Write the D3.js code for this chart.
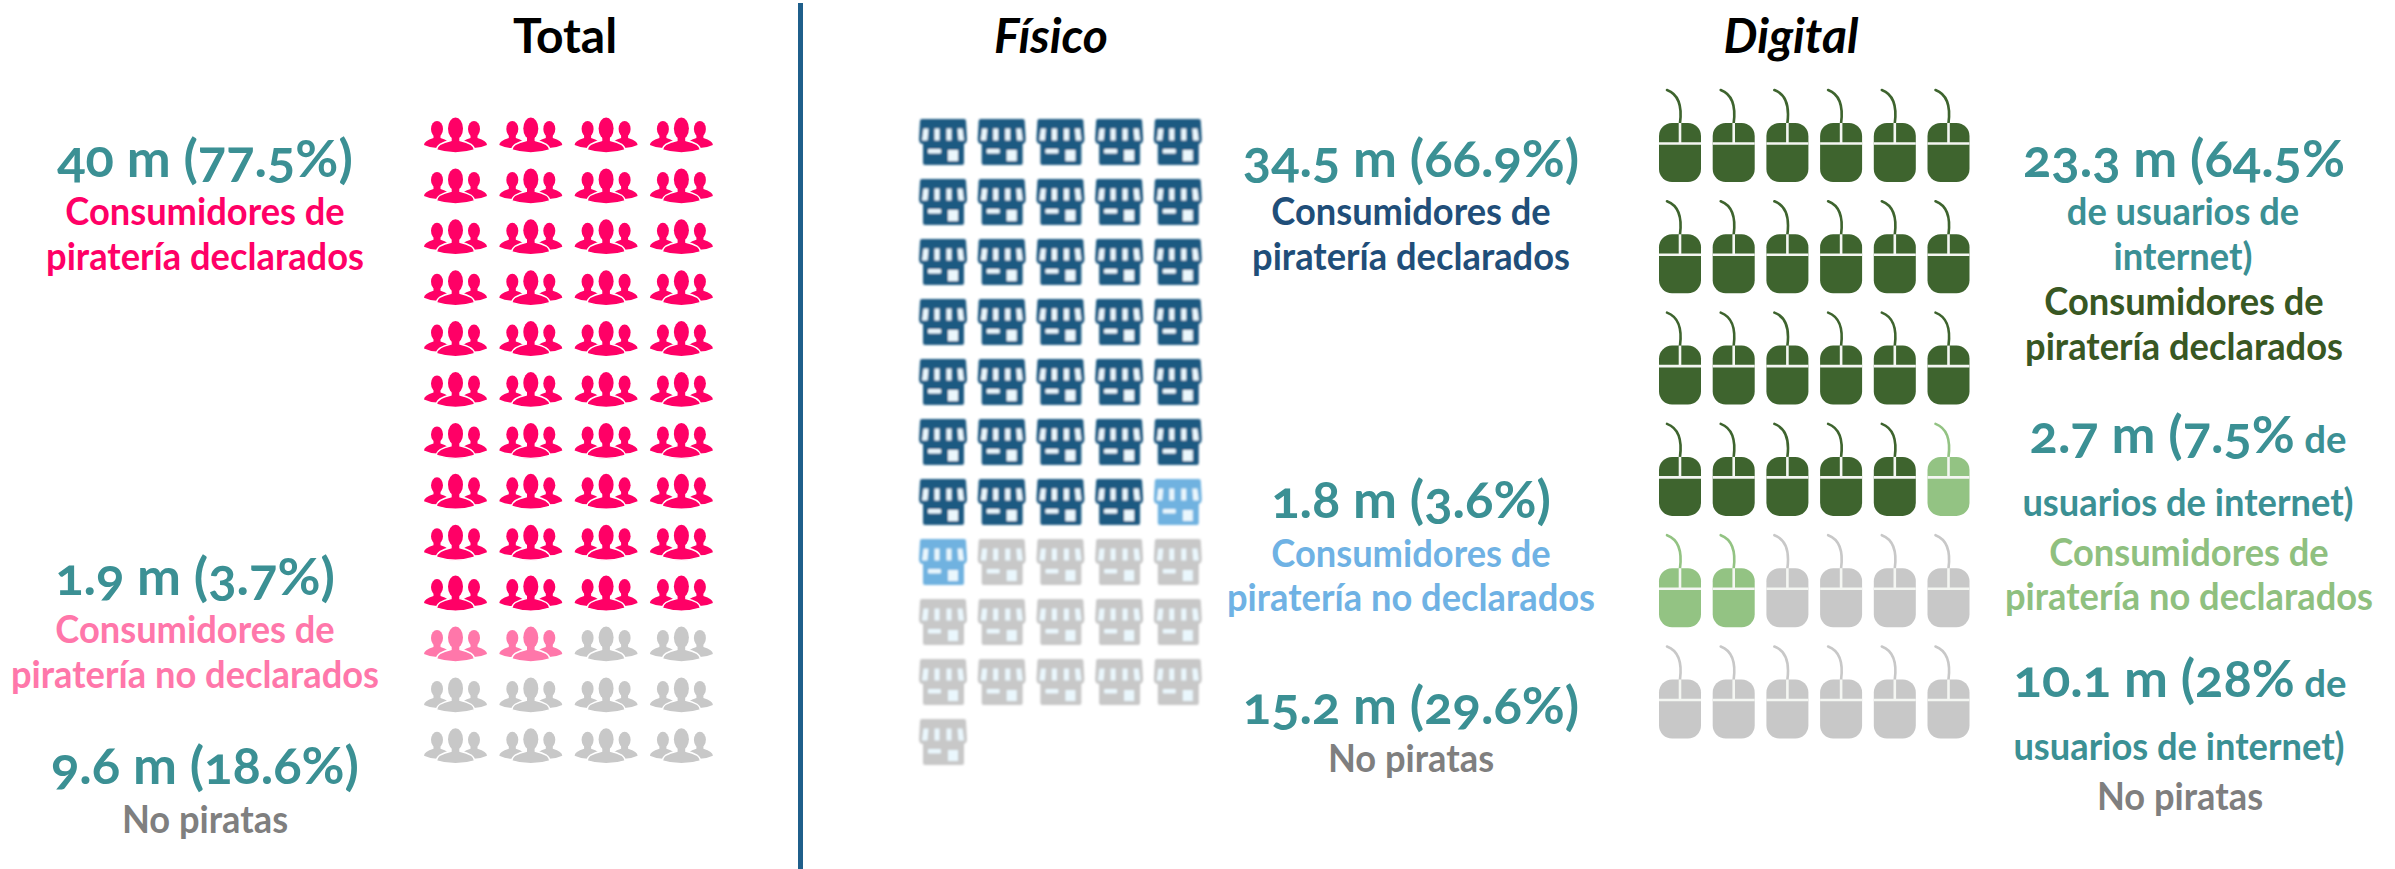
<!DOCTYPE html>
<html lang="es">
<head>
    <meta charset="UTF-8">
    <script src="https://d3js.org/d3.v7.min.js"></script>
    <title>Piratería</title>
    <style>
        body { margin: 0; background: #fff; }
        text { font-family: Lato, "Open Sans", sans-serif; font-weight: 700; text-anchor: middle; }
    </style>
</head>
<body>
    <svg width="2395" height="869" id="chart"></svg>
    <script>
        // icon counts per group: declared, undeclared, non pirates
        const groups = ["declarados", "noDeclarados", "noPiratas"];
        const totalCounts = [40, 2, 10];
        const fisicoCounts = [34, 2, 15];
        const digitalCounts = [23, 3, 10];

        const titles = ["Total", "Físico", "Digital"];
        const totalFigures = ["40 m (77.5%)", "1.9 m (3.7%)", "9.6 m (18.6%)"];
        const fisicoFigures = ["34.5 m (66.9%)", "1.8 m (3.6%)", "15.2 m (29.6%)"];
        const digitalFigures = ["23.3 m (64.5%", "2.7 m (7.5%", "10.1 m (28%"];
        const line1 = "Consumidores de";
        const line2 = "piratería declarados";
        const line2b = "piratería no declarados";
        const noPiratas = "No piratas";
        const deUsuarios = "de usuarios de";
        const internetClose = "internet)";
        const usuariosInternet = "usuarios de internet)";

        const svg = d3.select("#chart");

        const teal = "#3b9094";
        const grey = "#c8c8c8";
        const greyText = "#7f7f7f";

        // expand the counts into one record per icon
        function cells(counts) {
            return groups.flatMap((g, k) => d3.range(counts[k]).map(() => g));
        }

        function drawGrid(counts, cols, rows, x0, stepX, y0, stepY, colors, drawIcon) {
            const x = d3.scalePoint().domain(d3.range(cols)).range([x0, x0 + stepX * (cols - 1)]);
            const y = d3.scalePoint().domain(d3.range(rows)).range([y0, y0 + stepY * (rows - 1)]);
            const color = d3.scaleOrdinal().domain(groups).range(colors);

            return svg.append("g").call(g => g.selectAll("g")
                .data(cells(counts))
                .join("g")
                .attr("transform", (d, i) => `translate(${x(i % cols)},${y(Math.floor(i / cols))})`)
                .each(function (d) { drawIcon(d3.select(this), color(d)); }));
        }

        function person(g, c) {
            const bust = (cx, hy, rx, ry, shoulder, neck, bottom, outline) => {
                g.append("path")
                    .attr("d", `M${cx - neck} ${hy + ry - 4} L${cx - neck} ${hy + ry + 1}
                        Q${cx - shoulder} ${hy + ry + 4} ${cx - shoulder} ${bottom - 3}
                        Q${cx} ${bottom + 3} ${cx + shoulder} ${bottom - 3}
                        Q${cx + shoulder} ${hy + ry + 4} ${cx + neck} ${hy + ry + 1}
                        L${cx + neck} ${hy + ry - 4} Z`)
                    .attr("fill", c)
                    // white edge separates the front figure from the two behind it
                    .attr("stroke", outline ? "#fff" : "none")
                    .attr("stroke-width", 1.4);
                g.append("ellipse").attr("cx", cx).attr("cy", hy).attr("rx", rx).attr("ry", ry).attr("fill", c);
            };
            bust(13, 11, 6, 8, 13, 3.5, 30);
            bust(50, 11, 6, 8, 13, 3.5, 30);
            bust(31.5, 10.5, 7.5, 11, 19, 4.5, 35, true);
        }

        function store(g, c) {
            const pale = "#eaf7fd";
            g.append("rect").attr("x", 4).attr("y", 16).attr("width", 41).attr("height", 30).attr("rx", 2).attr("fill", c);
            g.append("path")
                .attr("d", "M3 0 H45 Q47 0 47 2 L48 20 Q48 25 44 25 H4 Q0 25 0 20 L1 2 Q1 0 3 0 Z")
                .attr("fill", c);
            // awning slots
            const slots = ["M4.5 9.5 H9.5 L8.5 21.5 H3 Z", "M15.5 9.5 H20.5 L20.5 21.5 H15.5 Z", "M27.5 9.5 H32.5 L32.5 21.5 H27.5 Z", "M38.5 9.5 H43.5 L45 21.5 H39.5 Z"];
            g.selectAll("path.slot").data(slots).join("path")
                .attr("class", "slot").attr("d", d => d).attr("fill", pale);
            g.append("rect").attr("x", 9).attr("y", 30).attr("width", 13).attr("height", 4.5).attr("rx", 1).attr("fill", pale);
            g.append("rect").attr("x", 29).attr("y", 31).attr("width", 10).attr("height", 11).attr("fill", pale);
        }

        function mouse(g, c) {
            g.append("path")
                .attr("d", "M8 0 C16 3 24 10 21 33")
                .attr("fill", "none").attr("stroke", c).attr("stroke-width", 2.6).attr("stroke-linecap", "round");
            g.append("rect").attr("y", 33).attr("width", 42).attr("height", 59).attr("rx", 13).attr("fill", c);
            g.append("line").attr("x1", 21).attr("x2", 21).attr("y1", 33).attr("y2", 53).attr("stroke", "#f4f6f2").attr("stroke-width", 2.6);
            g.append("line").attr("x1", 0).attr("x2", 42).attr("y1", 53.5).attr("y2", 53.5).attr("stroke", "#f4f6f2").attr("stroke-width", 2.6);
        }

        // the shop icons are soft in the source image
        svg.append("defs").append("filter").attr("id", "soft")
            .append("feGaussianBlur").attr("stdDeviation", 0.9);

        drawGrid(totalCounts, 4, 13, 424, 75.3, 118, 50.9, ["#ff0066", "#ff77aa", grey], person);
        drawGrid(fisicoCounts, 5, 11, 919, 58.7, 119, 60, ["#1f5a82", "#6fb2e0", grey], store)
            .attr("filter", "url(#soft)");
        drawGrid(digitalCounts, 6, 6, 1659, 53.7, 90, 111.3, ["#3e642e", "#93c383", grey], mouse);

        // divider
        svg.append("line").attr("x1", 800.5).attr("x2", 800.5).attr("y1", 3).attr("y2", 869)
            .attr("stroke", "#1f5f8b").attr("stroke-width", 5);

        // text is squeezed a little: the source face is narrower than Lato
        const textShift = 2;
        function label(txt, cx, y, size, color, squeeze, italic) {
            return svg.append("text")
                .attr("transform", `translate(${cx},${y + textShift}) scale(${squeeze},1)`)
                .attr("font-size", size).attr("fill", color)
                .attr("font-style", italic ? "italic" : null)
                .text(txt);
        }
        function figure(txt, cx, y, de) {
            const t = label(txt, cx, y, 52, teal, 1.01);
            t.style("font-feature-settings", '"onum"');
            if (de) t.append("tspan").attr("font-size", 38).text(" de");
            return t;
        }
        function body(txt, cx, y, color) {
            return label(txt, cx, y, 38, color, 0.955).attr("font-weight", 600);
        }

        label(titles[0], 565, 51, 48, "#000", 1);
        label(titles[1], 1051, 51, 48, "#000", 1, true);
        label(titles[2], 1791, 51, 48, "#000", 1, true);

        figure(totalFigures[0], 205, 175);
        body(line1, 205, 223, "#ff0066");
        body(line2, 205, 268, "#ff0066");
        figure(totalFigures[1], 195, 593);
        body(line1, 195, 641, "#ff77aa");
        body(line2b, 195, 686, "#ff77aa");
        figure(totalFigures[2], 205, 782);
        body(noPiratas, 205, 831, greyText);

        figure(fisicoFigures[0], 1411, 175);
        body(line1, 1411, 223, "#1f4e79");
        body(line2, 1411, 268, "#1f4e79");
        figure(fisicoFigures[1], 1411, 516);
        body(line1, 1411, 565, "#6fb2e4");
        body(line2b, 1411, 609, "#6fb2e4");
        figure(fisicoFigures[2], 1411, 722);
        body(noPiratas, 1411, 770, greyText);

        figure(digitalFigures[0], 2184, 175);
        body(deUsuarios, 2183, 223, teal);
        body(internetClose, 2183, 268, teal);
        body(line1, 2184, 313, "#385723");
        body(line2, 2184, 358, "#385723");
        figure(digitalFigures[1], 2188, 451, true);
        body(usuariosInternet, 2188, 514, teal);
        body(line1, 2189, 564, "#8fc07f");
        body(line2b, 2189, 608, "#8fc07f");
        figure(digitalFigures[2], 2180, 695, true);
        body(usuariosInternet, 2179, 758, teal);
        body(noPiratas, 2180, 808, greyText);
    </script>
</body>
</html>
